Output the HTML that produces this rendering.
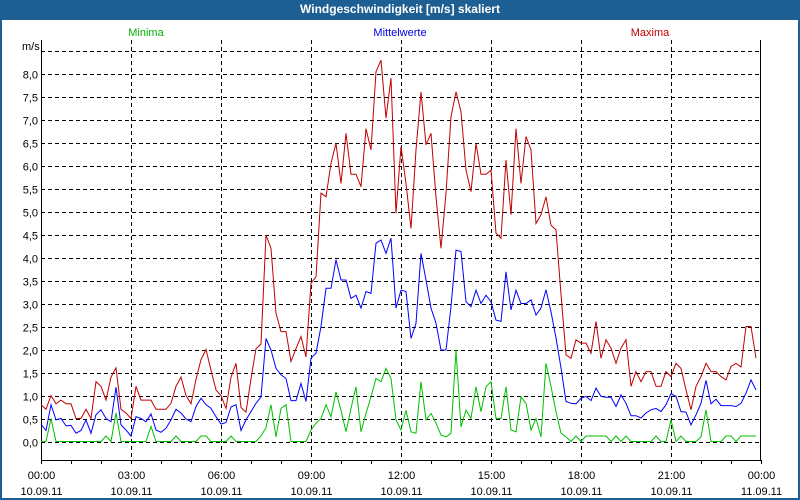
<!DOCTYPE html>
<html><head><meta charset="utf-8"><style>
html,body{margin:0;padding:0;background:#fff}
#wrap{position:relative;width:800px;height:500px;box-sizing:border-box;border:2px solid #1e5f93;border-top:none;overflow:hidden;background:#fff}
#title{position:absolute;left:0;top:0;width:796px;height:20px;background:#1e5f93;color:#fff;font:bold 12px "Liberation Sans",sans-serif;text-align:center;line-height:19px}
svg{position:absolute;left:-2px;top:0}
text{font-family:"Liberation Sans",sans-serif;font-size:11px}
</style></head><body>
<div id="wrap">
<div id="title">Windgeschwindigkeit [m/s] skaliert</div>
<svg id="chart" width="800" height="500"></svg>
</div>
<script>
const yTicks=["0,0","0,5","1,0","1,5","2,0","2,5","3,0","3,5","4,0","4,5","5,0","5,5","6,0","6,5","7,0","7,5","8,0"];
const xTickTimes=["00:00","03:00","06:00","09:00","12:00","15:00","18:00","21:00","00:00"];
const xTickDates=["10.09.11","10.09.11","10.09.11","10.09.11","10.09.11","10.09.11","10.09.11","10.09.11","11.09.11"];
const maxima=[0.8,0.7,1.0,0.82,0.9,0.82,0.82,0.5,0.5,0.7,0.5,1.3,1.2,0.9,1.4,1.6,0.7,0.62,0.5,1.2,0.9,0.9,0.9,0.7,0.7,0.7,0.83,1.2,1.4,1.0,0.82,1.35,1.78,2.0,1.55,1.12,1.0,0.72,1.4,1.7,
0.74,0.64,1.36,2.02,2.12,4.49,4.2,2.79,2.39,2.39,1.74,2.02,2.28,1.84,3.44,3.58,5.4,5.32,6.05,6.48,5.61,6.7,5.81,5.81,5.54,6.8,6.34,8.04,8.29,7.03,7.9,4.96,6.41,5.61,4.63,6.34,7.6,6.45,6.7,5.32,4.2,5.4,7.06,7.6,7.17,5.9,5.43,6.48,5.81,5.81,5.9,4.53,4.42,6.12,4.93,6.8,5.61,6.63,6.34,4.74,4.93,5.32,4.7,4.6,3.2,
1.88,1.81,2.21,2.14,2.14,1.92,2.61,1.81,2.21,2.03,1.7,2.03,2.21,1.2,1.52,1.3,1.52,1.52,1.2,1.2,1.52,1.41,1.7,1.59,1.12,0.69,1.2,1.41,1.7,1.52,1.52,1.41,1.34,1.63,1.7,1.62,2.5,2.5,1.81];
const mittel=[0.38,0.24,0.8,0.47,0.5,0.34,0.35,0.18,0.24,0.47,0.18,0.58,0.69,0.5,0.43,1.18,0.36,0.25,0.12,0.54,0.5,0.43,0.6,0.25,0.2,0.29,0.47,0.7,0.62,0.49,0.43,0.76,0.94,0.8,0.72,0.54,0.38,0.41,0.75,0.8,
0.24,0.47,0.65,0.83,0.97,2.24,1.99,1.59,1.45,1.37,0.89,0.89,1.26,0.87,1.81,1.92,2.5,3.33,3.33,3.95,3.51,3.51,3.11,3.18,2.9,3.26,3.22,4.31,4.38,4.09,4.42,2.9,3.29,3.26,2.24,2.57,4.09,3.51,2.9,2.57,1.99,1.99,2.93,4.16,4.13,3.04,2.93,3.29,3.0,3.18,3.04,2.64,2.61,3.69,2.86,3.29,3.0,3.0,3.08,2.75,2.9,3.3,2.82,2.25,1.6,
0.87,0.83,0.82,0.94,0.98,0.89,1.16,0.98,0.96,0.96,0.76,1.01,0.83,0.56,0.56,0.51,0.62,0.69,0.72,0.65,0.8,1.04,0.98,0.65,0.64,0.36,0.58,0.83,1.33,0.82,0.92,0.78,0.78,0.78,0.76,0.83,1.05,1.34,1.12];
const minima=[0,0,0.5,0,0,0,0,0,0,0,0,0,0,0.12,0,0.62,0,0,0,0,0,0,0.33,0,0,0,0,0.12,0,0,0,0,0.12,0.12,0,0,0,0,0.12,0,
0,0,0,0,0.12,0.3,0.8,0.1,0.72,0.8,0,0,0,0,0.25,0.4,0.5,0.8,0.54,1.08,0.68,0.21,0.72,1.19,0.21,0.61,0.97,1.37,1.3,1.59,1.37,0.47,0.25,0.68,0.21,0.18,1.3,0.47,0.61,0.4,0.14,0.1,0.18,1.99,0.32,0.68,0.5,1.19,0.65,1.19,1.3,0.5,0.5,1.19,0.25,0.21,0.97,0.83,0.25,0.5,0.1,1.7,1.2,0.65,0.18,
0.1,0,0.12,0,0.12,0.12,0.12,0.12,0.12,0,0.12,0,0.12,0,0,0,0,0,0.12,0,0,0.47,0,0.12,0,0,0,0.1,0.69,0,0,0,0.12,0.12,0,0.12,0.12,0.12,0.12];
const NS='http://www.w3.org/2000/svg';
const svg=document.getElementById('chart');
const L=41,R=760,T=40,B=460;
function xPos(i){return L+i*5;}          // 10-minute steps
function yPos(v){return 441.5-v*46;}
function mk(tag,attrs){const e=document.createElementNS(NS,tag);for(const k in attrs)e.setAttribute(k,attrs[k]);svg.appendChild(e);return e;}
for(let k=0;k<=17;k++){
  const y=Math.round(yPos(k*0.5))+0.5;
  const g=mk('line',{x1:L,x2:R,y1:y,y2:y,stroke:'#000','stroke-dasharray':'4,3','stroke-width':1});
  
  
  if(k<yTicks.length){
    const t=mk('text',{x:38,y:y+4,'text-anchor':'end',fill:'#000'});
    t.textContent=yTicks[k];
    
    
  }
}
for(let k=0;k<xTickTimes.length;k++){
  const x=L+k*90+0.5;
  if(k>0&&k<xTickTimes.length-1){
    const g=mk('line',{x1:x,x2:x,y1:T,y2:B,stroke:'#000','stroke-dasharray':'4,3'});
    
    
  }
  const t1=mk('text',{x:x,y:479,'text-anchor':'middle',fill:'#000'});
  t1.textContent=xTickTimes[k];
  
  
  const t2=mk('text',{x:x,y:495,'text-anchor':'middle',fill:'#000'});
  t2.textContent=xTickDates[k];
  
  
}
for(let h=0;h<=24;h++){
  const x=L+h*30+0.5;
  const tk=mk('line',{x1:x,x2:x,y1:B,y2:B+4,stroke:'#000'});
  
  
}
const fr=mk('path',{d:`M${L+0.5},${T} V${B+0.5} H${R+0.5} V${T}`,fill:'none',stroke:'#000'});


const ms=mk('text',{x:22,y:50,fill:'#000'});ms.textContent='m/s';


const legs=[['Minima','#00b000',146],['Mittelwerte','#0000e0',400],['Maxima','#c00000',650]];
legs.forEach(l=>{const t=mk('text',{x:l[2],y:36,'text-anchor':'middle',fill:l[1]});t.textContent=l[0];

});
function series(data,color,name){
  const p=mk('polyline',{points:data.map((v,i)=>xPos(i)+','+yPos(v).toFixed(1)).join(' '),fill:'none',stroke:color,'stroke-width':1});
  
  
}
series(minima,'#00c000','series-minima');
series(mittel,'#0000ff','series-mittelwerte');
series(maxima,'#c00000','series-maxima');
</script>
</body></html>
